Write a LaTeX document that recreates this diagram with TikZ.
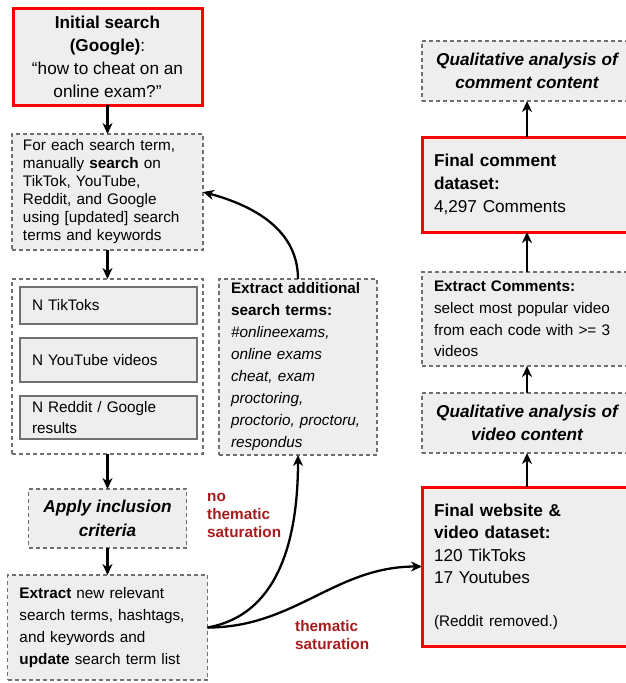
\documentclass[tikz,border=0pt]{standalone}
\usepackage{fontspec}
\setmainfont{Liberation Sans}
\usetikzlibrary{arrows.meta}

\definecolor{boxgray}{HTML}{EEEEEE}
\definecolor{boxline}{HTML}{707070}
\definecolor{lblred}{HTML}{A61C1C}
\newcommand{\txtsmall}{\fontsize{15.3}{18}\selectfont}
\newcommand{\txtbig}{\fontsize{17.2}{23}\selectfont}

\tikzset{
  cell/.style={fill=boxgray, inner sep=0pt, outer sep=0pt, font=\txtsmall},
  dbox/.style={cell, draw=boxline, line width=1.3pt, dash pattern=on 4pt off 3pt},
  rbox/.style={cell, draw=red, line width=3pt},
  nbox/.style={cell, draw=boxline, line width=1.3pt, minimum width=177, text width=153, align=left},
  lbl/.style={inner sep=0pt, anchor=west, align=left, text=lblred, font=\txtsmall\bfseries},
  flow/.style={->, line width=2.3pt},
}

\begin{document}
\begin{tikzpicture}[x=1pt,y=-1pt,>={Stealth[length=11pt,width=10pt,inset=3.5pt]}]
\useasboundingbox (0,0) rectangle (626,683);

\node[rbox, minimum width=189, minimum height=97, align=center, font=\txtbig] (init) at (107.5,56.5)
  {\textbf{Initial search}\\\textbf{(Google)}:\\“how to cheat on an\\online exam?”};
\node[dbox, minimum width=191, minimum height=116, text width=169, align=left] (search) at (107.5,192)
  {For each search term,\\manually \textbf{search} on\\TikTok, YouTube,\\Reddit, and Google\\using [updated] search\\terms and keywords};
\node[dbox, fill=white, minimum width=191, minimum height=175] (results) at (107.5,366.5) {};
\node[nbox, minimum height=37] (tiktoks) at (108.5,305.5) {N TikToks};
\node[nbox, minimum height=44] (youtube) at (108.5,360) {N YouTube videos};
\node[nbox, minimum height=43, font=\fontsize{15.3}{21}\selectfont] (reddit) at (108.5,417.5) {N Reddit / Google\\results};
\node[dbox, minimum width=158, minimum height=59, align=center, font=\fontsize{17.2}{24}\selectfont\bfseries\itshape] (apply) at (107.5,518.5)
  {Apply inclusion\\criteria};
\node[dbox, minimum width=200, minimum height=105, text width=176, align=left, font=\fontsize{15.3}{22.3}\selectfont] (extract) at (107.5,627.5)
  {\textbf{Extract} new relevant\\search terms, hashtags,\\and keywords and\\\textbf{update} search term list};
\node[dbox, minimum width=158, minimum height=176, text width=134, align=left, font=\fontsize{15.3}{22}\selectfont] (addl) at (298,367)
  {\textbf{Extract additional}\\\textbf{search terms:}\\\textit{\#onlineexams,}\\\textit{online exams}\\\textit{cheat, exam}\\\textit{proctoring,}\\\textit{proctorio, proctoru,}\\\textit{respondus}};

\node[dbox, minimum width=210, minimum height=60, align=center, font=\txtbig\bfseries\itshape] (qcomment) at (527,71)
  {Qualitative analysis of\\comment content};
\node[rbox, minimum width=210, minimum height=95, text width=186, align=left, font=\txtbig] (fcomment) at (527,184.5)
  {\textbf{Final comment}\\\textbf{dataset:}\\4,297 Comments};
\node[dbox, minimum width=210, minimum height=94, text width=186, align=left, font=\fontsize{15.3}{21.7}\selectfont] (xcomments) at (527,319)
  {\textbf{Extract Comments:}\\select most popular video\\from each code with >= 3\\videos};
\node[dbox, minimum width=210, minimum height=60, align=center, font=\txtbig\bfseries\itshape] (qvideo) at (527,423)
  {Qualitative analysis of\\video content};
\node[rbox, minimum width=210, minimum height=159, text width=186, align=left, font=\fontsize{17.2}{22.5}\selectfont] (fvideo) at (527,566.5)
  {\textbf{Final website \&}\\\textbf{video dataset:}\\120 TikToks\\17 Youtubes\\[20pt]{\txtsmall (Reddit removed.)}};

\node[lbl] (nosat) at (207,515) {no\\thematic\\saturation};
\node[lbl] (sat) at (295,635) {thematic\\saturation};

\draw[flow] (init) -- (search);
\draw[flow] (search) -- (results);
\draw[flow] (results) -- (apply);
\draw[flow] (apply) -- (extract);
\draw[flow] (extract.east) to[out=10, in=-90] (addl.south);
\draw[flow] (addl.north) to[out=90, in=-15] (search.east);
\draw[flow] (extract.east) to[out=0, in=180] (fvideo.west);
\draw[flow] (fvideo) -- (qvideo);
\draw[flow] (qvideo) -- (xcomments);
\draw[flow] (xcomments) -- (fcomment);
\draw[flow] (fcomment) -- (qcomment);

\end{tikzpicture}
\end{document}
